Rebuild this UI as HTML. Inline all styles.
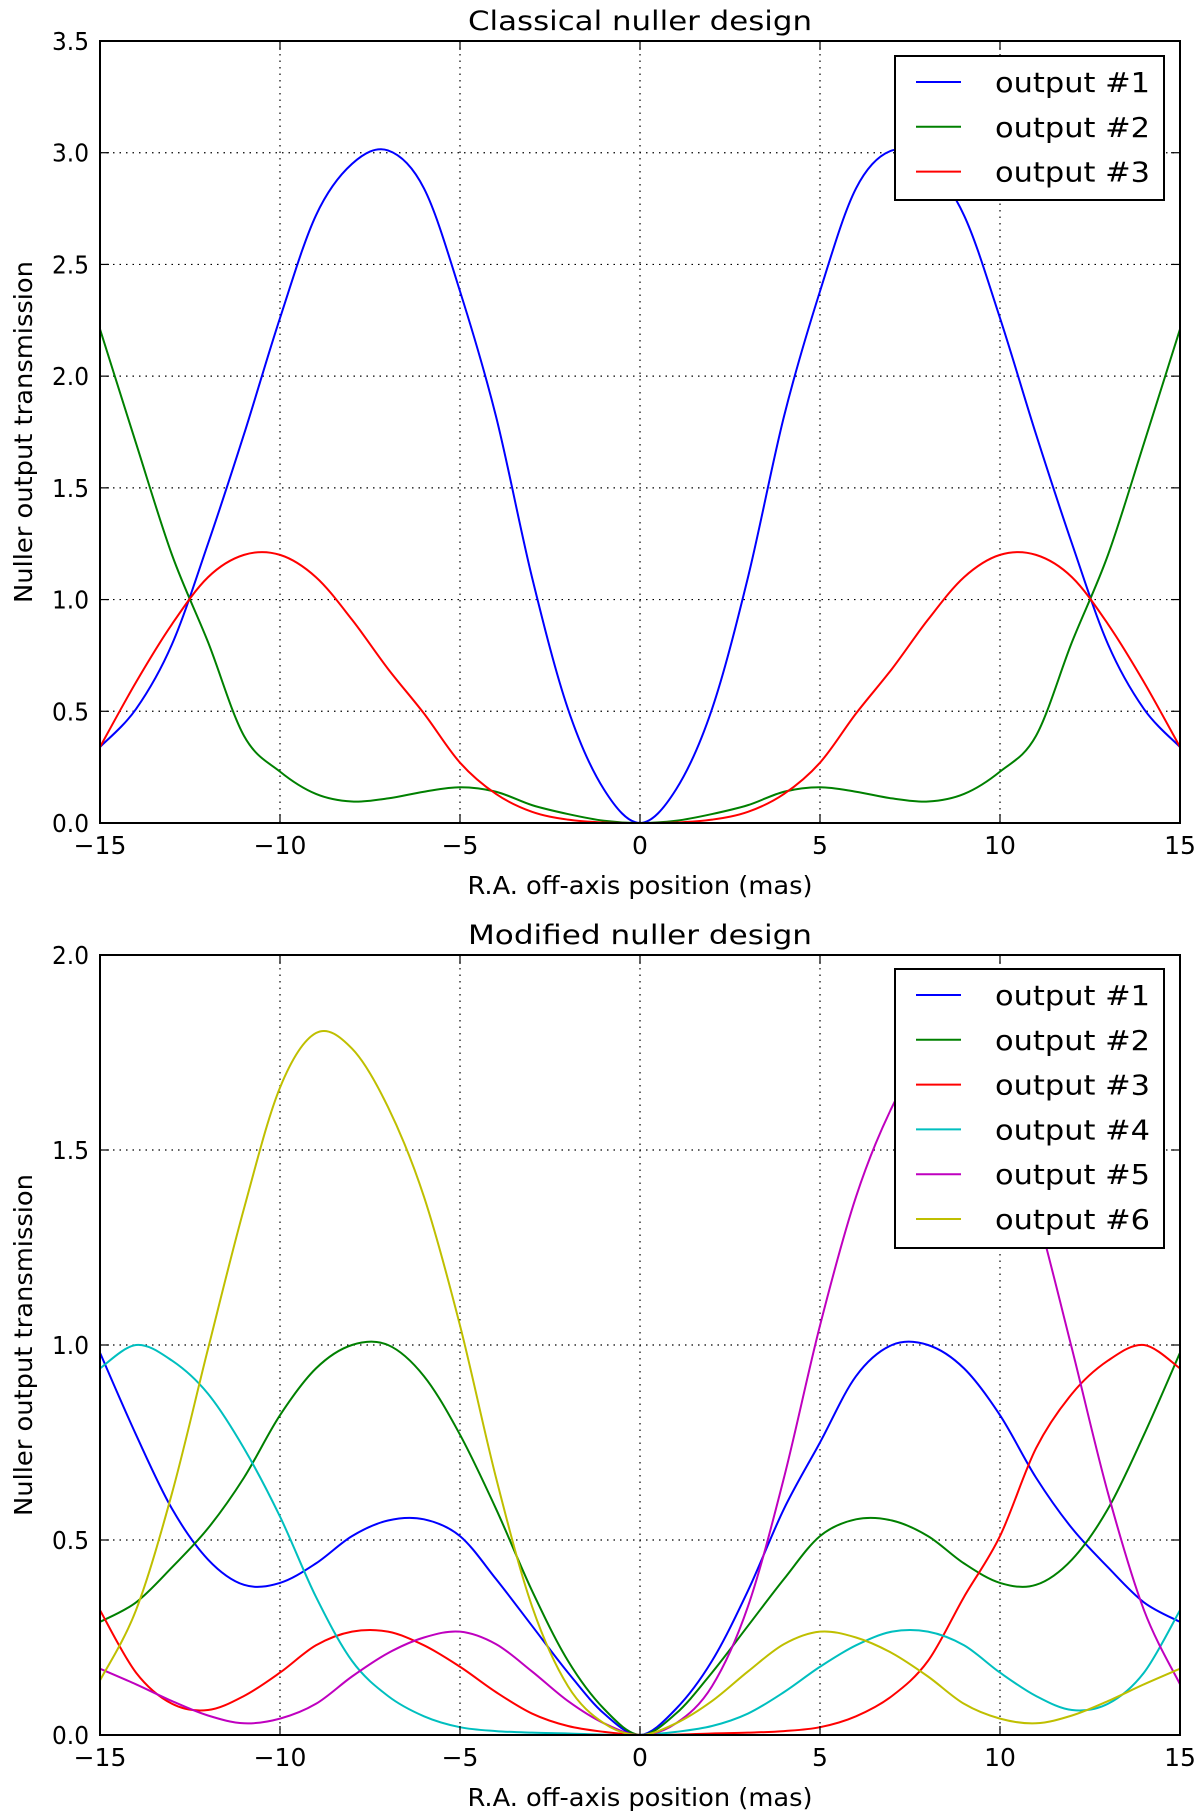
<!DOCTYPE html>
<html><head><meta charset="utf-8"><style>html,body{margin:0;padding:0;background:#fff}svg{display:block}text{font-family:"DejaVu Sans","Liberation Sans",sans-serif;fill:#000}</style></head>
<body>
<svg id="fig" width="1200" height="1817" viewBox="0 0 1200 1817" xmlns="http://www.w3.org/2000/svg"></svg>
<script>
const xs = [-15,-14,-13,-12,-11,-10,-9,-8,-7,-6,-5,-4,-3,-2,-1,0,1,2,3,4,5,6,7,8,9,10,11,12,13,14,15];
const xTicks = [-15,-10,-5,0,5,10,15];
const xTickLabels = ["\u221215","\u221210","\u22125","0","5","10","15"];
const topYTicks = [0,0.5,1,1.5,2,2.5,3,3.5];
const topYTickLabels = ["0.0","0.5","1.0","1.5","2.0","2.5","3.0","3.5"];
const botYTicks = [0,0.5,1,1.5,2];
const botYTickLabels = ["0.0","0.5","1.0","1.5","2.0"];
// Classical nuller
const c1 = [0.34,0.51,0.8,1.25,1.74,2.26,2.72,2.95,3.01,2.84,2.38,1.82,1.1,0.51,0.15,0,0.15,0.51,1.1,1.82,2.38,2.84,3.01,2.95,2.72,2.26,1.74,1.25,0.8,0.51,0.34];
const c2 = [2.21,1.7,1.2,0.81,0.39,0.23,0.13,0.096,0.11,0.14,0.16,0.14,0.08,0.04,0.01,0,0.01,0.04,0.08,0.14,0.16,0.14,0.11,0.096,0.13,0.23,0.39,0.81,1.2,1.7,2.21];
const c3 = [0.34,0.63,0.89,1.1,1.2,1.2,1.1,0.91,0.69,0.49,0.27,0.13,0.05,0.015,0.002,0,0.002,0.015,0.05,0.13,0.27,0.49,0.69,0.91,1.1,1.2,1.2,1.1,0.89,0.63,0.34];
// Modified nuller
const m1 = [0.98,0.77,0.58,0.45,0.385,0.39,0.44,0.51,0.55,0.553,0.51,0.40,0.28,0.16,0.055,0,0.067,0.19,0.37,0.58,0.75,0.92,1.0,1.0,0.94,0.82,0.66,0.53,0.43,0.34,0.29];
const m2 = [0.29,0.34,0.43,0.53,0.66,0.82,0.94,1.0,1.0,0.92,0.77,0.58,0.37,0.19,0.067,0,0.055,0.16,0.28,0.40,0.51,0.553,0.55,0.51,0.44,0.39,0.385,0.45,0.58,0.77,0.98];
const m3 = [0.32,0.16,0.08,0.064,0.1,0.16,0.23,0.265,0.265,0.23,0.175,0.11,0.055,0.023,0.008,0,0.001,0.004,0.006,0.01,0.02,0.048,0.1,0.19,0.354,0.51,0.735,0.875,0.96,1.0,0.94];
const m4 = [0.94,1.0,0.96,0.875,0.735,0.56,0.354,0.19,0.1,0.048,0.02,0.01,0.006,0.004,0.001,0,0.008,0.023,0.055,0.11,0.175,0.23,0.265,0.265,0.23,0.16,0.1,0.064,0.08,0.16,0.32];
const m5 = [0.17,0.13,0.087,0.05,0.03,0.042,0.08,0.15,0.21,0.25,0.265,0.233,0.163,0.087,0.03,0,0.03,0.125,0.33,0.66,1.05,1.38,1.61,1.76,1.8,1.66,1.35,0.99,0.62,0.32,0.13];
const m6 = [0.14,0.32,0.62,0.99,1.35,1.66,1.8,1.76,1.61,1.38,1.05,0.66,0.33,0.125,0.03,0,0.03,0.087,0.163,0.233,0.265,0.25,0.21,0.15,0.08,0.042,0.03,0.05,0.087,0.13,0.17];
const legendLabels = ["output #1","output #2","output #3","output #4","output #5","output #6"];

const NS="http://www.w3.org/2000/svg";
const svg=document.getElementById('fig');
function mk(tag,attrs,parent){const e=document.createElementNS(NS,tag);for(const k in attrs)e.setAttribute(k,attrs[k]);(parent||svg).appendChild(e);return e;}
const colors=['#0000ff','#008000','#ff0000','#00bfbf','#bf00bf','#bfbf00'];

function drawPanel(p){
  const L=100,R=1180,T=p.top,B=p.bottom;
  const sx=v=>L+(v+15)/30*(R-L);
  const sy=v=>B-v/p.ymax*(B-T);
  const g=mk('g',{});
  
  
  // grid
  xTicks.forEach(t=>{const l=mk('line',{x1:sx(t),x2:sx(t),y1:T,y2:B,stroke:'#000','stroke-width':1.2,'stroke-dasharray':'1.5,5'},g);
    });
  p.yTicks.forEach(t=>{const l=mk('line',{x1:L,x2:R,y1:sy(t),y2:sy(t),stroke:'#000','stroke-width':1.2,'stroke-dasharray':'1.5,5'},g);
    });
  // series
  const cp=mk('clipPath',{id:'clip'+p.top},g);mk('rect',{x:L,y:T,width:R-L,height:B-T},cp);
  p.series.forEach((s,i)=>{
    const pts=xs.map((x,j)=>[sx(x),sy(s[j])]);
    let d='M'+pts[0][0]+','+pts[0][1];
    for(let j=0;j<pts.length-1;j++){
      const p0=pts[Math.max(0,j-1)],p1=pts[j],p2=pts[j+1],p3=pts[Math.min(pts.length-1,j+2)];
      const c1x=p1[0]+(p2[0]-p0[0])/6,c1y=p1[1]+(p2[1]-p0[1])/6;
      const c2x=p2[0]-(p3[0]-p1[0])/6,c2y=p2[1]-(p3[1]-p1[1])/6;
      d+=' C'+c1x+','+c1y+' '+c2x+','+c2y+' '+p2[0]+','+p2[1];
    }
    const path=mk('path',{d:d,fill:'none',stroke:colors[i],'stroke-width':2,'clip-path':'url(#clip'+p.top+')'},g);
    
    
  });
  // frame
  const fr=mk('rect',{x:L,y:T,width:R-L,height:B-T,fill:'none',stroke:'#000','stroke-width':2},g);
  
  // ticks
  xTicks.forEach((t,i)=>{
    mk('line',{x1:sx(t),x2:sx(t),y1:B,y2:B-9,stroke:'#000','stroke-width':1.2},g);
    mk('line',{x1:sx(t),x2:sx(t),y1:T,y2:T+9,stroke:'#000','stroke-width':1.2},g);
    const tx=mk('text',{x:sx(t),y:B+31,'text-anchor':'middle','font-size':25},g);
    tx.textContent=xTickLabels[i];
    
  });
  p.yTicks.forEach((t,i)=>{
    mk('line',{x1:L,x2:L+9,y1:sy(t),y2:sy(t),stroke:'#000','stroke-width':1.2},g);
    mk('line',{x1:R,x2:R-9,y1:sy(t),y2:sy(t),stroke:'#000','stroke-width':1.2},g);
    const tx=mk('text',{x:89,y:sy(t)+9,'text-anchor':'end','font-size':25,textLength:37,lengthAdjust:'spacingAndGlyphs'},g);
    tx.textContent=p.yLabels[i];
    
  });
  const ti=mk('text',{x:640,y:T-11,'text-anchor':'middle','font-size':27,textLength:344,lengthAdjust:'spacingAndGlyphs'},g);
  ti.textContent=p.title;
  const xl=mk('text',{x:640,y:B+71,'text-anchor':'middle','font-size':25,textLength:345,lengthAdjust:'spacingAndGlyphs'},g);
  xl.textContent='R.A. off-axis position (mas)';
  const cy=(T+B)/2;
  const yl=mk('text',{x:0,y:0,'text-anchor':'middle','font-size':25,textLength:342,lengthAdjust:'spacingAndGlyphs',transform:'translate(32,'+cy+') rotate(-90)'},g);
  yl.textContent='Nuller output transmission';
  // legend
  const n=p.series.length;
  const lg=mk('g',{},g);
  mk('rect',{x:895,y:p.legTop,width:269,height:p.legH,fill:'#fff',stroke:'#000','stroke-width':2},lg);
  for(let i=0;i<n;i++){
    const yy=p.legTop+26+i*44.8;
    const ln=mk('line',{x1:916,x2:961,y1:yy,y2:yy,stroke:colors[i],'stroke-width':2},lg);
    
    const t=mk('text',{x:995,y:yy+10,'font-size':28,textLength:155,lengthAdjust:'spacingAndGlyphs'},lg);
    t.textContent=legendLabels[i];
  }
}
drawPanel({name:'classical-nuller-chart',top:41,bottom:823,ymax:3.5,yTicks:topYTicks,yLabels:topYTickLabels,series:[c1,c2,c3],title:'Classical nuller design',legTop:56,legH:144});
drawPanel({name:'modified-nuller-chart',top:955,bottom:1735,ymax:2.0,yTicks:botYTicks,yLabels:botYTickLabels,series:[m1,m2,m3,m4,m5,m6],title:'Modified nuller design',legTop:969,legH:279});
</script>
</body></html>
